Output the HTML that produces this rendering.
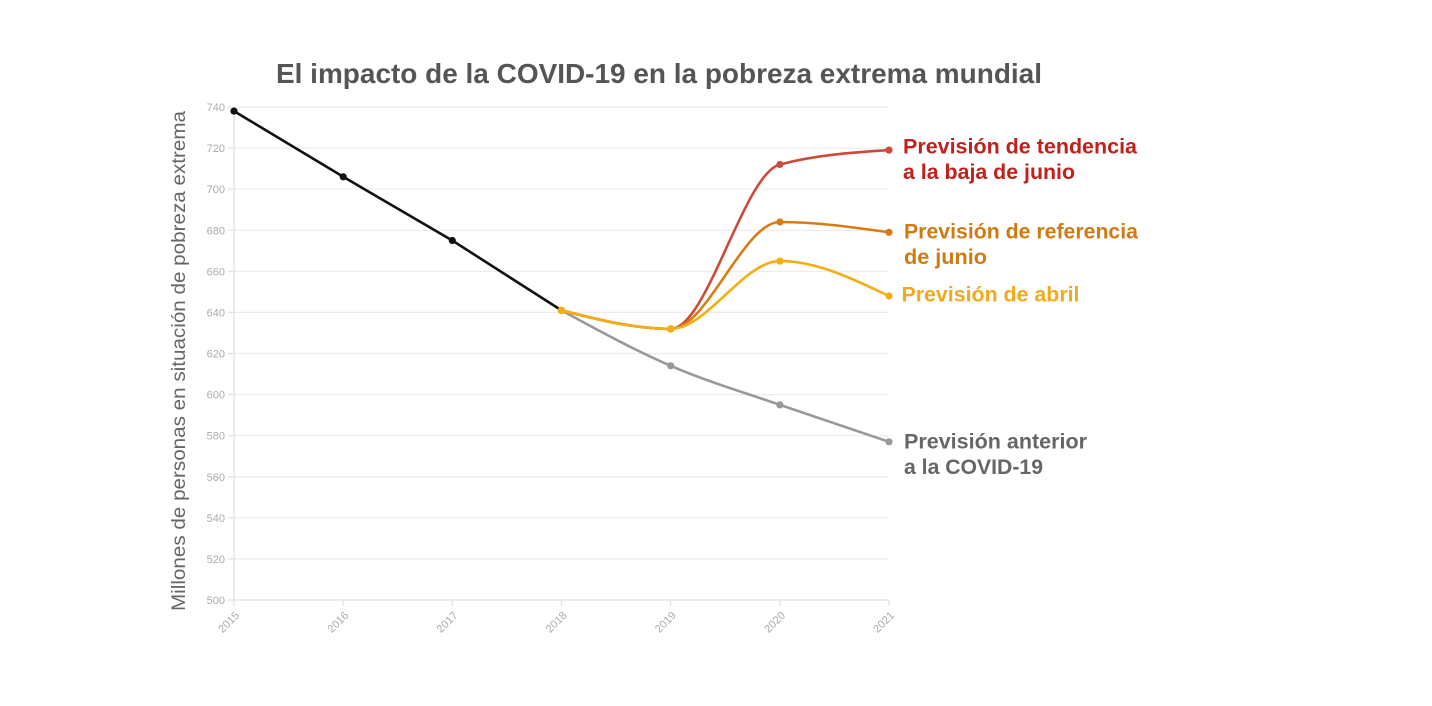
<!DOCTYPE html>
<html><head><meta charset="utf-8"><style>
html,body{margin:0;padding:0;background:#fff;}
svg{display:block;}
</style></head><body>
<svg width="1432" height="706" viewBox="0 0 1432 706" xmlns="http://www.w3.org/2000/svg">
<rect width="1432" height="706" fill="#fff"/>
<text x="276" y="83" font-family="Liberation Sans, sans-serif" font-weight="bold" font-size="28" fill="#555" textLength="766" lengthAdjust="spacingAndGlyphs">El impacto de la COVID-19 en la pobreza extrema mundial</text>
<g stroke="#ececec" stroke-width="1.2">
<line x1="234" y1="107" x2="889" y2="107"/>
<line x1="234" y1="148.1" x2="889" y2="148.1"/>
<line x1="234" y1="189.2" x2="889" y2="189.2"/>
<line x1="234" y1="230.3" x2="889" y2="230.3"/>
<line x1="234" y1="271.3" x2="889" y2="271.3"/>
<line x1="234" y1="312.4" x2="889" y2="312.4"/>
<line x1="234" y1="353.5" x2="889" y2="353.5"/>
<line x1="234" y1="394.6" x2="889" y2="394.6"/>
<line x1="234" y1="435.7" x2="889" y2="435.7"/>
<line x1="234" y1="476.8" x2="889" y2="476.8"/>
<line x1="234" y1="517.8" x2="889" y2="517.8"/>
<line x1="234" y1="558.9" x2="889" y2="558.9"/>
</g>
<g stroke="#e0e0e0" stroke-width="1.2">
<line x1="234" y1="107" x2="234" y2="600"/>
<line x1="234" y1="600" x2="889" y2="600"/>
<line x1="228" y1="107" x2="234" y2="107"/><line x1="228" y1="148.1" x2="234" y2="148.1"/><line x1="228" y1="189.2" x2="234" y2="189.2"/><line x1="228" y1="230.3" x2="234" y2="230.3"/><line x1="228" y1="271.3" x2="234" y2="271.3"/><line x1="228" y1="312.4" x2="234" y2="312.4"/><line x1="228" y1="353.5" x2="234" y2="353.5"/><line x1="228" y1="394.6" x2="234" y2="394.6"/><line x1="228" y1="435.7" x2="234" y2="435.7"/><line x1="228" y1="476.8" x2="234" y2="476.8"/><line x1="228" y1="517.8" x2="234" y2="517.8"/><line x1="228" y1="558.9" x2="234" y2="558.9"/><line x1="228" y1="600" x2="234" y2="600"/>
<line x1="234" y1="600" x2="234" y2="606"/><line x1="343.2" y1="600" x2="343.2" y2="606"/><line x1="452.3" y1="600" x2="452.3" y2="606"/><line x1="561.5" y1="600" x2="561.5" y2="606"/><line x1="670.7" y1="600" x2="670.7" y2="606"/><line x1="779.9" y1="600" x2="779.9" y2="606"/><line x1="889" y1="600" x2="889" y2="606"/>
</g>
<g font-family="Liberation Sans, sans-serif" font-size="11" fill="#aaa" text-anchor="end">
<text x="225" y="111">740</text><text x="225" y="152.1">720</text><text x="225" y="193.2">700</text><text x="225" y="234.3">680</text><text x="225" y="275.3">660</text><text x="225" y="316.4">640</text><text x="225" y="357.5">620</text><text x="225" y="398.6">600</text><text x="225" y="439.7">580</text><text x="225" y="480.8">560</text><text x="225" y="521.8">540</text><text x="225" y="562.9">520</text><text x="225" y="604">500</text>
<text transform="translate(240,616) rotate(-45)">2015</text>
<text transform="translate(349.2,616) rotate(-45)">2016</text>
<text transform="translate(458.3,616) rotate(-45)">2017</text>
<text transform="translate(567.5,616) rotate(-45)">2018</text>
<text transform="translate(676.7,616) rotate(-45)">2019</text>
<text transform="translate(785.9,616) rotate(-45)">2020</text>
<text transform="translate(895,616) rotate(-45)">2021</text>
</g>
<text transform="translate(185,361) rotate(-90)" text-anchor="middle" font-family="Liberation Sans, sans-serif" font-size="19" fill="#666" textLength="500" lengthAdjust="spacingAndGlyphs">Millones de personas en situación de pobreza extrema</text>
<g fill="none" stroke-width="2.6" stroke-linecap="round" stroke-linejoin="round">
<polyline stroke="#111" points="234,111.1 343.2,176.8 452.3,240.5 561.5,310.4"/>
<path stroke="#999" d="M561.5,310.4 C597.9,330.2 634.3,350.1 670.7,365.8 C707.1,381.6 743.5,392.2 779.9,404.9 C816.2,417.5 852.6,429.7 889,441.8"/>
<path stroke="#cc4a3c" d="M561.5,310.4 C597.9,319.6 634.3,328.9 670.7,328.9 C707.1,328.9 743.5,174.1 779.9,164.5 C816.2,154.9 852.6,152.5 889,150.1"/>
<path stroke="#dc7a12" d="M561.5,310.4 C597.9,319.6 634.3,328.9 670.7,328.9 C707.1,328.9 743.5,222 779.9,222 C816.2,222 852.6,227.2 889,232.3"/>
<path stroke="#f2ae14" d="M561.5,310.4 C597.9,319.6 634.3,328.9 670.7,328.9 C707.1,328.9 743.5,261.1 779.9,261.1 C816.2,261.1 852.6,278.5 889,296"/>
</g>
<g>
<circle cx="234" cy="111.1" r="3.6" fill="#111"/><circle cx="343.2" cy="176.8" r="3.6" fill="#111"/><circle cx="452.3" cy="240.5" r="3.6" fill="#111"/>
<circle cx="670.7" cy="365.8" r="3.6" fill="#999"/><circle cx="779.9" cy="404.9" r="3.6" fill="#999"/><circle cx="889" cy="441.8" r="3.6" fill="#999"/>
<circle cx="779.9" cy="164.5" r="3.6" fill="#cc4a3c"/><circle cx="889" cy="150.1" r="3.6" fill="#cc4a3c"/>
<circle cx="779.9" cy="222" r="3.6" fill="#dc7a12"/><circle cx="889" cy="232.3" r="3.6" fill="#dc7a12"/>
<circle cx="561.5" cy="310.4" r="3.8" fill="#f2ae14"/><circle cx="670.7" cy="328.9" r="3.8" fill="#f2ae14"/><circle cx="779.9" cy="261.1" r="3.6" fill="#f2ae14"/><circle cx="889" cy="296" r="3.6" fill="#f2ae14"/>
</g>
<g font-family="Liberation Sans, sans-serif" font-weight="bold" font-size="21">
<text x="903" y="153.5" fill="#c0211b" textLength="234" lengthAdjust="spacingAndGlyphs">Previsión de tendencia</text>
<text x="903" y="179" fill="#c0211b" textLength="172" lengthAdjust="spacingAndGlyphs">a la baja de junio</text>
<text x="904" y="238.5" fill="#d07a14" textLength="234" lengthAdjust="spacingAndGlyphs">Previsión de referencia</text>
<text x="904" y="264" fill="#d07a14" textLength="83" lengthAdjust="spacingAndGlyphs">de junio</text>
<text x="901.5" y="301.5" fill="#f2a91d" textLength="178" lengthAdjust="spacingAndGlyphs">Previsión de abril</text>
<text x="904" y="448.5" fill="#666" textLength="183" lengthAdjust="spacingAndGlyphs">Previsión anterior</text>
<text x="904" y="474" fill="#666" textLength="139" lengthAdjust="spacingAndGlyphs">a la COVID-19</text>
</g>
</svg>
</body></html>
